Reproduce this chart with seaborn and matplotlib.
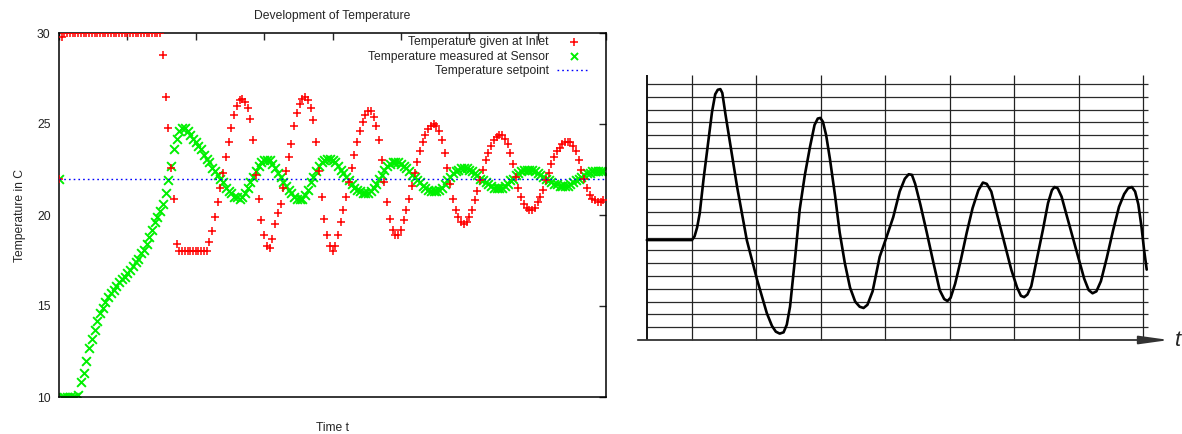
import numpy as np
import pandas as pd
import matplotlib
matplotlib.use('Agg')
import matplotlib.pyplot as plt
import seaborn as sns

# --- values ---
# left: gnuplot run, one sample every 2 time units
inlet_temp = [
    22.0, 29.8, 30.0, 30.0, 30.0, 30.0, 30.0, 30.0, 30.0, 30.0,
    30.0, 30.0, 30.0, 30.0, 30.0, 30.0, 30.0, 30.0, 30.0, 30.0,
    30.0, 30.0, 30.0, 30.0, 30.0, 30.0, 30.0, 30.0, 30.0, 30.0,
    30.0, 30.0, 30.0, 30.0, 30.0, 30.0, 30.0, 30.0, 28.8, 26.5,
    24.8, 22.6, 20.9, 18.4, 18.0, 18.0, 18.0, 18.0, 18.0, 18.0,
    18.0, 18.0, 18.0, 18.0, 18.0, 18.5, 19.1, 19.9, 20.7, 21.5,
    22.3, 23.2, 24.0, 24.8, 25.5, 26.0, 26.3, 26.4, 26.2, 25.9,
    25.3, 24.1, 22.2, 20.9, 19.7, 18.9, 18.3, 18.2, 18.7, 19.5,
    20.1, 20.6, 21.5, 22.4, 23.2, 23.9, 24.9, 25.6, 26.1, 26.4,
    26.5, 26.3, 25.9, 25.2, 24.0, 22.4, 21.0, 19.8, 18.9, 18.3,
    18.0, 18.3, 18.9, 19.6, 20.3, 21.0, 21.8, 22.6, 23.3, 24.0,
    24.6, 25.1, 25.5, 25.7, 25.7, 25.4, 24.9, 24.1, 23.0, 21.8,
    20.7, 19.8, 19.2, 18.9, 18.9, 19.2, 19.7, 20.3, 20.9, 21.6,
    22.3, 22.9, 23.5, 24.0, 24.4, 24.7, 24.9, 25.0, 24.9, 24.6,
    24.1, 23.4, 22.6, 21.7, 20.9, 20.3, 19.9, 19.6, 19.5, 19.6,
    19.9, 20.3, 20.8, 21.3, 21.9, 22.5, 23.0, 23.4, 23.8, 24.1,
    24.3, 24.4, 24.4, 24.2, 23.9, 23.4, 22.8, 22.1, 21.5, 21.0,
    20.6, 20.4, 20.3, 20.3, 20.4, 20.7, 21.0, 21.4, 21.9, 22.3,
    22.8, 23.2, 23.5, 23.7, 23.9, 24.0, 24.0, 24.0, 23.8, 23.5,
    23.0, 22.5, 22.0, 21.5, 21.1, 20.9, 20.8, 20.7, 20.7, 20.8,
]
sensor_temp = [
    22.0, 10.0, 10.0, 10.0, 10.0, 10.0, 10.0, 10.1, 10.8, 11.3,
    12.0, 12.7, 13.2, 13.7, 14.2, 14.6, 14.9, 15.2, 15.5, 15.7,
    15.9, 16.1, 16.3, 16.5, 16.6, 16.8, 17.0, 17.2, 17.4, 17.6,
    17.9, 18.1, 18.4, 18.8, 19.2, 19.6, 19.9, 20.2, 20.6, 21.2,
    21.9, 22.7, 23.6, 24.2, 24.6, 24.8, 24.8, 24.6, 24.4, 24.2,
    24.0, 23.8, 23.6, 23.3, 23.1, 22.9, 22.6, 22.4, 22.2, 22.0,
    21.8, 21.5, 21.3, 21.2, 21.0, 21.0, 20.9, 21.0, 21.2, 21.5,
    21.8, 22.1, 22.4, 22.7, 22.9, 23.0, 23.0, 23.0, 22.8, 22.6,
    22.3, 22.1, 21.8, 21.6, 21.4, 21.2, 21.0, 20.9, 20.9, 20.9,
    21.1, 21.4, 21.8, 22.1, 22.4, 22.7, 22.9, 23.0, 23.1, 23.1,
    23.0, 22.9, 22.7, 22.5, 22.3, 22.1, 21.9, 21.7, 21.5, 21.4,
    21.3, 21.2, 21.2, 21.2, 21.3, 21.5, 21.7, 22.0, 22.2, 22.5,
    22.7, 22.8, 22.9, 22.9, 22.9, 22.8, 22.7, 22.6, 22.4, 22.2,
    22.1, 21.9, 21.8, 21.6, 21.5, 21.4, 21.3, 21.3, 21.3, 21.4,
    21.5, 21.7, 21.9, 22.1, 22.3, 22.4, 22.5, 22.6, 22.6, 22.6,
    22.5, 22.4, 22.3, 22.2, 22.0, 21.9, 21.8, 21.7, 21.6, 21.5,
    21.5, 21.5, 21.5, 21.6, 21.7, 21.9, 22.0, 22.2, 22.3, 22.4,
    22.5, 22.5, 22.5, 22.5, 22.4, 22.3, 22.2, 22.1, 22.0, 21.9,
    21.8, 21.7, 21.7, 21.6, 21.6, 21.6, 21.6, 21.7, 21.8, 21.9,
    22.0, 22.1, 22.2, 22.3, 22.3, 22.4, 22.4, 22.4, 22.4, 22.4,
]
setpoint = 22.0
sample_step = 2
y_ticks = [10, 15, 20, 25, 30]

# right: chart recorder trace (x in grid columns, y in grid rows)
chart_t = [-0.70, 0.00, 0.04, 0.08, 0.12, 0.18, 0.25, 0.31, 0.36, 0.40,
           0.44, 0.47, 0.52, 0.59, 0.70, 0.85, 1.01, 1.16, 1.24, 1.30,
           1.36, 1.42, 1.47, 1.52, 1.60, 1.67, 1.75, 1.83, 1.90, 1.95,
           1.99, 2.03, 2.08, 2.14, 2.22, 2.29, 2.37, 2.45, 2.53, 2.60,
           2.66, 2.72, 2.80, 2.91, 3.02, 3.12, 3.22, 3.30, 3.36, 3.41,
           3.46, 3.54, 3.64, 3.74, 3.84, 3.91, 3.96, 4.01, 4.08, 4.17,
           4.26, 4.35, 4.44, 4.51, 4.57, 4.64, 4.72, 4.82, 4.95, 5.04,
           5.10, 5.15, 5.20, 5.26, 5.35, 5.44, 5.52, 5.58, 5.62, 5.67,
           5.73, 5.80, 5.97, 6.08, 6.15, 6.21, 6.27, 6.34, 6.43, 6.53,
           6.62, 6.70, 6.76, 6.82, 6.87, 6.92, 6.97, 7.01, 7.05]
chart_level = [7.81, 7.81, 8.1, 8.8, 9.9, 12.6, 15.4, 17.8, 19.2, 19.55,
               19.6, 19.3, 17.6, 15.4, 11.95, 7.8, 4.7, 2.1, 1.1, 0.65,
               0.5, 0.6, 1.2, 2.6, 6.5, 10.2, 12.9, 15.1, 16.8, 17.3,
               17.35, 17.05, 16.0, 14.1, 11.2, 8.4, 6.0, 4.1, 3.0, 2.6,
               2.5, 2.75, 3.8, 6.5, 8.1, 9.6, 11.6, 12.6, 12.95, 12.9,
               12.2, 10.6, 8.4, 6.1, 3.9, 3.2, 3.05, 3.3, 4.4, 6.3,
               8.4, 10.3, 11.7, 12.3, 12.2, 11.6, 10.0, 8.05, 5.5, 4.1,
               3.45, 3.35, 3.55, 4.2, 6.4, 8.6, 10.7, 11.7, 11.95, 11.85,
               11.2, 9.9, 6.8, 4.8, 3.9, 3.65, 3.8, 4.6, 6.4, 8.6,
               10.4, 11.4, 11.85, 11.95, 11.6, 10.6, 8.8, 7.0, 5.5]

df = pd.DataFrame({'t': np.arange(len(inlet_temp)) * sample_step,
                   'inlet': inlet_temp, 'sensor': sensor_temp})

sns.set_style('white')
plt.rcParams['font.family'] = ['Liberation Sans', 'DejaVu Sans']

fig = plt.figure(figsize=(11.82, 4.34), dpi=100)

# --- left panel ---
ax = fig.add_axes([59/1182, 1 - 397/434, 547/1182, 364/434])
sns.scatterplot(data=df, x='t', y='sensor', marker='x', s=40, color='#00f000',
                linewidth=1.4, ax=ax, label='Temperature measured at Sensor', zorder=2)
sns.scatterplot(data=df, x='t', y='inlet', marker='+', s=34, color='#ff0000',
                linewidth=1.1, ax=ax, label='Temperature given at Inlet', zorder=3)
ax.axhline(setpoint, color='#0000ff', lw=1.0, ls=(0, (1.2, 2.2)),
           label='Temperature setpoint', zorder=4)

ax.set_xlim(0, 400)
ax.set_ylim(10, 30)
ax.set_xticks(np.arange(0, 401, 50))
ax.set_xticklabels([])
ax.set_yticks(y_ticks)
ax.tick_params(direction='in', top=True, right=True, length=5, width=1,
               labelsize=8.7, pad=6, labelcolor='#222222')
for s in ax.spines.values():
    s.set_linewidth(1.1)
    s.set_color('black')

ax.set_title('Development of Temperature', fontsize=8.7, pad=10)
ax.set_xlabel('Time t', fontsize=8.7, labelpad=12)
ax.set_ylabel('Temperature in C', fontsize=8.7, labelpad=8)

h, l = ax.get_legend_handles_labels()
order = [1, 0, 2]
leg = ax.legend([h[i] for i in order], [l[i] for i in order], loc='upper right',
                bbox_to_anchor=((590 - 59)/547, 1 - 3/364), markerfirst=False,
                frameon=False, fontsize=8.7, handlelength=2.7, handletextpad=0.7,
                labelspacing=0.22, borderpad=0, borderaxespad=0, scatterpoints=1)
for hd in leg.legend_handles[:2]:
    hd.set_sizes([26])

# --- right panel: recorder chart ---
ax2 = fig.add_axes([630/1182, 1 - 360/434, 552/1182, 300/434])
ax2.set_xlim(-0.961, 7.597)
ax2.set_ylim(-1.5625, 21.875)
ax2.axis('off')
ax2.hlines(np.arange(1, 21), -0.70, 7.07, color='#2a2a2a', lw=0.9)
ax2.vlines(np.arange(0, 8), 0, 20.7, color='#222222', lw=0.9)
ax2.vlines(-0.70, 0, 20.7, color='black', lw=1.3)
sns.lineplot(x=chart_t, y=chart_level, sort=False, estimator=None,
             color='black', lw=1.9, ax=ax2)
ax2.annotate('', xy=(7.40, 0), xytext=(-0.84, 0),
             arrowprops=dict(arrowstyle='-|>,head_length=1.8,head_width=0.25',
                             color='#333333', lw=1.3, shrinkA=0, shrinkB=0))
ax2.text(7.53, 0, 't', style='italic', fontsize=16, ha='center', va='center')

plt.savefig('out.png', dpi=100)
plt.close()
